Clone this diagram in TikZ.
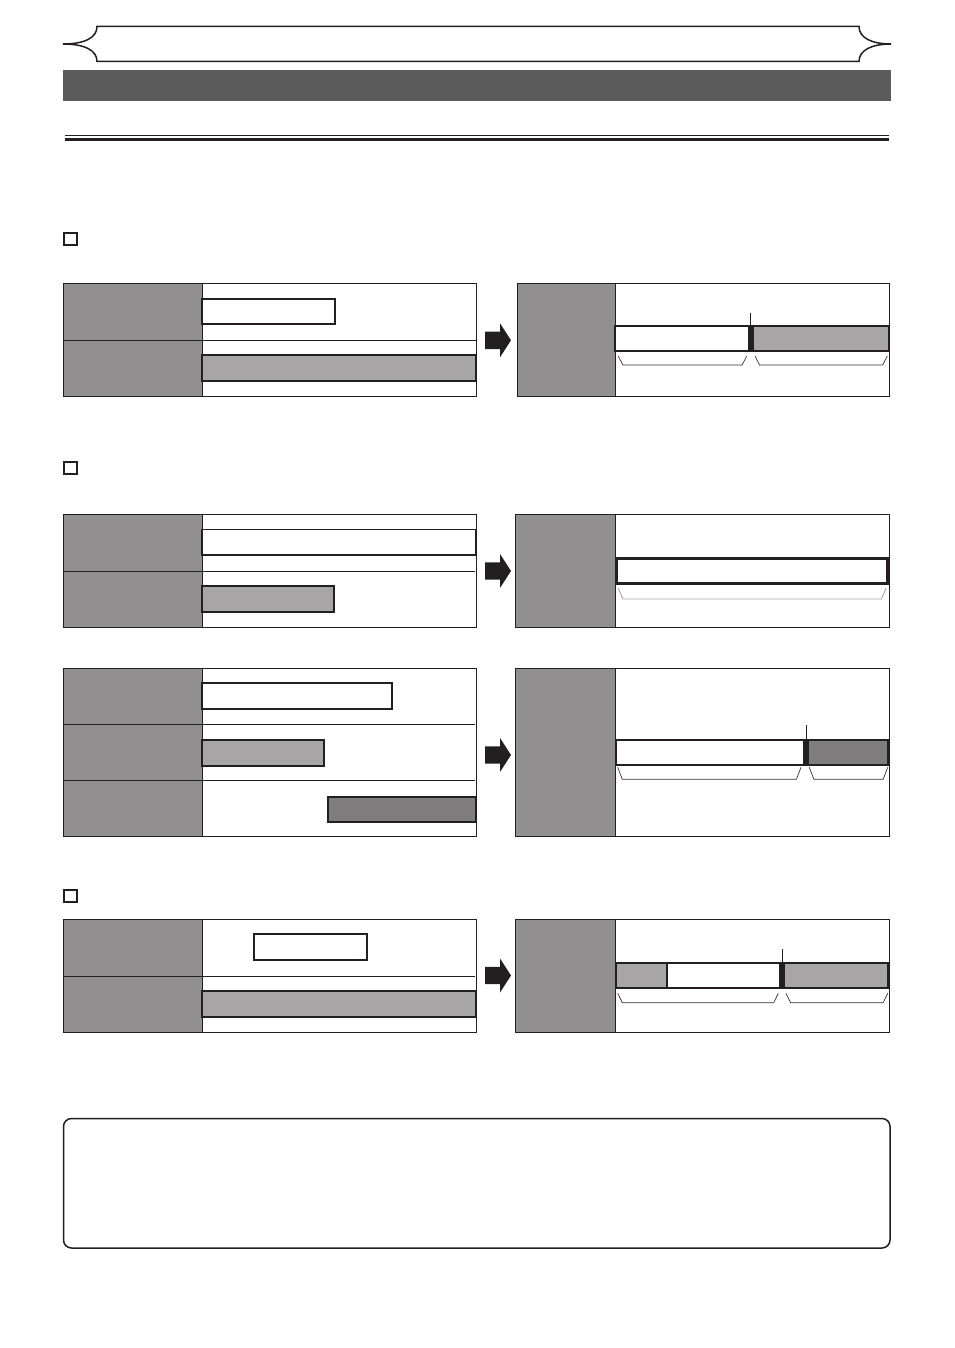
\documentclass[tikz,border=0pt]{standalone}
\usetikzlibrary{calc}
\definecolor{colgray}{HTML}{918F90}
\definecolor{lightbar}{HTML}{A7A5A6}
\definecolor{darkbar}{HTML}{7F7D7E}
\definecolor{headbar}{HTML}{5B5B5B}
\definecolor{inkblack}{HTML}{231F20}
\tikzset{
  panel/.style={draw=inkblack,line width=0.9pt},
  colfill/.style={fill=colgray},
  divider/.style={draw=inkblack,line width=0.9pt},
  whitebox/.style={draw=inkblack,fill=white,line width=2pt},
  thinbox/.style={draw=inkblack,fill=white,line width=1.4pt},
  lightbox/.style={draw=inkblack,fill=lightbar,line width=2pt},
  darkbox/.style={draw=inkblack,fill=darkbar,line width=2pt},
  marker/.style={fill=inkblack},
  tickline/.style={draw=inkblack,line width=0.8pt},
  bracket/.style={draw=black!80,line width=0.7pt},
  lightbracket/.style={draw=black!35,line width=0.9pt},
  blockarrow/.style={fill=inkblack},
  checkbox/.style={draw=inkblack,line width=1.8pt},
}
\newcommand\myarrow[1]{%
  \fill[blockarrow] (485,#1-8.7) -- (500,#1-8.7) -- (500,#1-17) -- (511,#1) -- (500,#1+17) -- (500,#1+8.7) -- (485,#1+8.7) -- cycle;}
\newcommand\mybrace[5][bracket]{%
  \draw[#1] (#2,#4) -- ($(#2,#5)+(4.6,0)$) -- ($(#3,#5)+(-4.6,0)$) -- (#3,#4);}
\begin{document}
\begin{tikzpicture}[x=1pt,y=-1pt]
\useasboundingbox (0,0) rectangle (954,1348);
\fill[white] (0,0) rectangle (954,1348);

% ---------- header ornament ----------
\draw[inkblack,line width=1.5pt,line join=miter]
  (97,26.5) -- (859,26.5)
  .. controls (859,38) and (872,44) .. (891,44)
  .. controls (872,44) and (859,50) .. (859,61.5)
  -- (97,61.5)
  .. controls (97,50) and (84,44) .. (63,44)
  .. controls (84,44) and (97,38) .. (97,26.5) -- cycle;

% ---------- dark title bar ----------
\fill[headbar] (63,70) rectangle (891,101.5);

% ---------- double rule ----------
\draw[inkblack,line width=1pt] (65,135.3) -- (889,135.3);
\draw[inkblack,line width=3pt] (65,139.3) -- (889,139.3);

% ---------- checkboxes ----------
\draw[checkbox] (64.3,232.8) rectangle (76.8,245.3);
\draw[checkbox] (64.3,461.8) rectangle (76.8,474.3);
\draw[checkbox] (64.3,889.8) rectangle (76.8,902.3);

% ================= SECTION 1 =================
% left panel
\fill[colfill] (63,283.3) rectangle (202,396);
\draw[divider] (63,340.7) -- (476.5,340.7);
\draw[whitebox] (202,298.5) rectangle (335,324);
\draw[lightbox] (202,355) rectangle (475.5,381);
\draw[panel] (63,283.3) rectangle (476.5,396);
\draw[divider] (202,283.3) -- (202,396);
% arrow
\myarrow{340.3}
% right panel
\fill[colfill] (517.5,283.3) rectangle (615,396);
\draw[divider] (615,283.3) -- (615,396);
\fill[white] (614.5,325.7) rectangle (747.7,351);
\fill[marker] (747.7,325.7) rectangle (754,351);
\fill[lightbar] (754,325.7) rectangle (888.5,351);
\draw[inkblack,line width=2pt] (614.5,325.7) rectangle (888.5,351);
\draw[tickline] (750.5,312.7) -- (750.5,325.7);
\mybrace{618.3}{746.7}{356}{365}
\mybrace{755}{887.3}{356}{365}
\draw[panel] (517.5,283.3) rectangle (889.3,396);

% ================= SECTION 2a =================
\fill[colfill] (63,514.3) rectangle (202,627.3);
\draw[divider] (63,571) -- (475,571);
\draw[thinbox] (202,529.3) rectangle (475.5,555);
\draw[lightbox] (202,586) rectangle (334.3,611.8);
\draw[panel] (63,514.3) rectangle (476.5,627.3);
\draw[divider] (202,514.3) -- (202,627.3);
\myarrow{571}
% right panel
\fill[colfill] (515.5,514.3) rectangle (615.5,627.3);
\draw[divider] (615.5,514.3) -- (615.5,627.3);
\draw[whitebox,line width=2.4pt] (616.5,558.3) rectangle (887.5,583.3);
\mybrace[lightbracket]{618.3}{886}{588.3}{599}
\draw[panel] (515.5,514.3) rectangle (889.3,627.3);

% ================= SECTION 2b =================
\fill[colfill] (63,668.3) rectangle (202,836.7);
\draw[divider] (63,724) -- (475,724);
\draw[divider] (63,780) -- (475,780);
\draw[whitebox] (202,682.7) rectangle (391.7,709.3);
\draw[lightbox] (202,740) rectangle (324.3,766);
\draw[darkbox] (328.3,796.7) rectangle (476,822.3);
\draw[panel] (63,668.3) rectangle (476.5,836.7);
\draw[divider] (202,668.3) -- (202,836.7);
\myarrow{755}
% right panel
\fill[colfill] (515.5,668.3) rectangle (615.7,836.7);
\draw[divider] (615.7,668.3) -- (615.7,836.7);
\fill[white] (616,740) rectangle (803.3,765);
\fill[marker] (803.3,740) rectangle (809.3,765);
\fill[darkbar] (809.3,740) rectangle (888.3,765);
\draw[inkblack,line width=2pt] (616,740) rectangle (888.3,765);
\draw[tickline] (806.5,725) -- (806.5,740);
\mybrace{617.7}{801}{767.3}{779.3}
\mybrace{809.3}{887.7}{767.3}{779.3}
\draw[panel] (515.5,668.3) rectangle (889.3,836.7);

% ================= SECTION 3 =================
\fill[colfill] (63,919.3) rectangle (202,1032.3);
\draw[divider] (63,976) -- (475,976);
\draw[whitebox] (253.5,934.3) rectangle (367.3,960.3);
\draw[lightbox] (202,991) rectangle (475.5,1017);
\draw[panel] (63,919.3) rectangle (476.5,1032.3);
\draw[divider] (202,919.3) -- (202,1032.3);
\myarrow{975.5}
% right panel
\fill[colfill] (515.5,919.3) rectangle (615.7,1032.3);
\draw[divider] (615.7,919.3) -- (615.7,1032.3);
\fill[lightbar] (616,962.7) rectangle (667.3,988.3);
\fill[white] (667.3,962.7) rectangle (779,988.3);
\fill[marker] (779,962.7) rectangle (785.3,988.3);
\fill[lightbar] (785.3,962.7) rectangle (888.3,988.3);
\draw[inkblack,line width=2pt] (667.3,962.7) -- (667.3,988.3);
\draw[inkblack,line width=2pt] (616,962.7) rectangle (888.3,988.3);
\draw[tickline] (782.3,949.3) -- (782.3,962.7);
\mybrace{617.7}{778.3}{993.3}{1002.7}
\mybrace{786}{887.7}{993.3}{1002.7}
\draw[panel] (515.5,919.3) rectangle (889.3,1032.3);

% ---------- bottom note box ----------
\draw[inkblack,line width=1.5pt,rounded corners=8pt] (63.5,1118.5) rectangle (890,1248);
\end{tikzpicture}
\end{document}
